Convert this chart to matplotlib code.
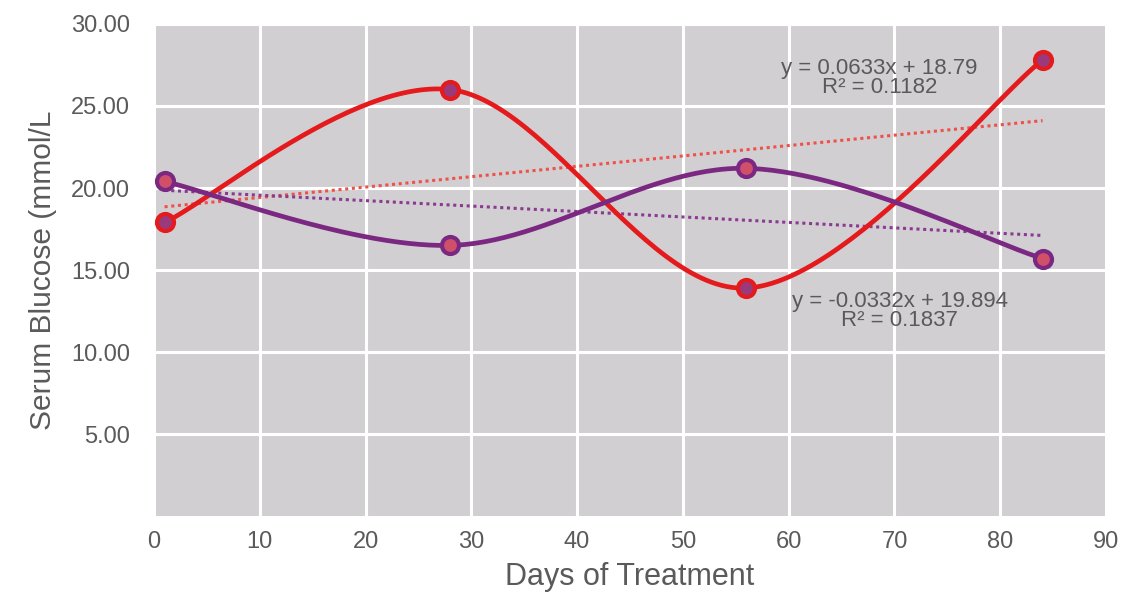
import numpy as np
import matplotlib
matplotlib.use('Agg')
import matplotlib.pyplot as plt

plt.rcParams['font.family'] = ['Liberation Sans', 'DejaVu Sans']

# === Data ===
days = [1, 28, 56, 84]
red_vals = [17.9, 26.0, 13.9, 27.8]
purple_vals = [20.4, 16.5, 21.2, 15.7]
red_fit = (0.0633, 18.79)
purple_fit = (-0.0332, 19.894)
red_eq = "y = 0.0633x + 18.79\nR² = 0.1182"
purple_eq = "y = -0.0332x + 19.894\nR² = 0.1837"
xticks = list(range(0, 91, 10))
yticks = [5, 10, 15, 20, 25, 30]

RED = '#e41a1c'
PURPLE = '#7b2882'
TXT = '#5a5a5a'


def smooth(xs, ys, n=60):
    # Excel-style smoothed line: cubic Bezier with 1/6 neighbour tangents
    p = np.column_stack([xs, ys]).astype(float)
    out = []
    t = np.linspace(0, 1, n)[:, None]
    for i in range(len(p) - 1):
        p0 = p[max(i - 1, 0)]; p1 = p[i]; p2 = p[i + 1]; p3 = p[min(i + 2, len(p) - 1)]
        c1 = p1 + (p2 - p0) / 6
        c2 = p2 - (p3 - p1) / 6
        seg = ((1 - t) ** 3) * p1 + 3 * ((1 - t) ** 2) * t * c1 + 3 * (1 - t) * t ** 2 * c2 + t ** 3 * p2
        out.append(seg if i == 0 else seg[1:])
    out = np.vstack(out)
    return out[:, 0], out[:, 1]


fig = plt.figure(figsize=(11.28, 5.94), dpi=100)
ax = fig.add_axes([0.1365, 0.1313, 0.8440, 0.8283])
ax.set_facecolor('#d1cfd1')
for s in ax.spines.values():
    s.set_visible(False)
ax.grid(True, color='white', lw=2.2)
ax.set_axisbelow(True)

# trendlines
xt = np.array([days[0], days[-1]], dtype=float)
ax.plot(xt, red_fit[0] * xt + red_fit[1], ls=(0, (1, 1.2)), color='#f0504a', lw=2.2, zorder=2)
ax.plot(xt, purple_fit[0] * xt + purple_fit[1], ls=(0, (1, 1.2)), color='#8a3a92', lw=2.2, zorder=2)

# smoothed series
sx, sy = smooth(days, red_vals)
ax.plot(sx, sy, color=RED, lw=3.4, solid_capstyle='round', zorder=3)
sx, sy = smooth(days, purple_vals)
ax.plot(sx, sy, color=PURPLE, lw=3.4, solid_capstyle='round', zorder=3)

ax.scatter(days, red_vals, s=150, facecolor='#9a3a7a', edgecolor=RED, linewidth=3, zorder=4)
ax.scatter(days, purple_vals, s=150, facecolor='#d0506a', edgecolor=PURPLE, linewidth=3, zorder=4)

ax.text(68.6, 26.7, red_eq, ha='center', va='center', fontsize=16, color=TXT, linespacing=0.9)
ax.text(70.5, 12.5, purple_eq, ha='center', va='center', fontsize=16, color=TXT, linespacing=0.9)

ax.set_xlim(0, 90)
ax.set_ylim(0, 30)
ax.set_xticks(xticks)
ax.set_yticks(yticks)
ax.set_yticklabels([f"{v:.2f}" for v in yticks])
ax.tick_params(length=0, labelsize=17, colors=TXT)
ax.tick_params(axis='y', pad=17)
ax.tick_params(axis='x', pad=11)
ax.set_xlabel('Days of Treatment', fontsize=22, color=TXT, labelpad=6)
ax.set_ylabel('Serum Blucose (mmol/L', fontsize=21.5, color=TXT, labelpad=10)

fig.savefig('out.png', dpi=100, facecolor='white')
